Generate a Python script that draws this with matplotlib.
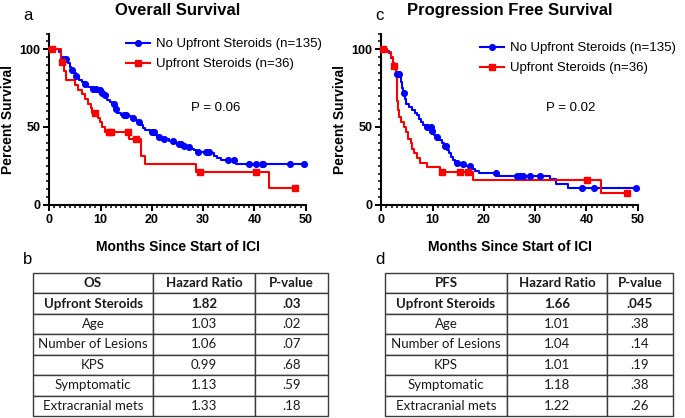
import numpy as np
import matplotlib
matplotlib.use("Agg")
import matplotlib.pyplot as plt
from matplotlib.ticker import MultipleLocator
from matplotlib.lines import Line2D

plt.rcParams['font.family'] = ['Liberation Sans', 'DejaVu Sans']

# ---- Overall survival (a) ----
os_no_t = [0, 1.9, 2.3, 2.7, 3.6, 4.0, 4.3, 4.9, 5.2, 5.8, 6.4, 6.9, 7.6, 8.3, 9.5, 10.2, 10.7,
           11.2, 11.8, 12.3, 12.9, 13.2, 13.9, 15.4, 15.9, 16.5, 17.1, 17.7, 18.2, 18.7, 19.6,
           20.6, 21.0, 21.6, 23.4, 24.3, 25.2, 26.1, 26.8, 27.4, 28.2, 28.6, 31.5, 32.1, 32.8,
           33.4, 36.4, 49.7]
os_no_s = [100, 98, 95, 93.5, 91, 88.5, 86.5, 84.5, 82.5, 80.5, 79, 77.5, 76, 74.5, 73.5, 72, 70.5,
           67.5, 66, 64.5, 61.5, 59, 58, 57, 56, 54.5, 53, 51, 49.5, 48, 47,
           45, 43.5, 42, 41, 40, 39, 38, 37, 36, 35, 34, 33, 31.5, 30,
           29, 26, 26]
os_no_cens = [2.9, 3.3, 4.4, 5.3, 7.0, 8.6, 9.1, 9.8, 10.3, 10.9, 12.6, 13.1, 14.5, 15.0, 16.4,
              17.4, 20.1, 20.4, 21.3, 22.3, 24.2, 25.3, 25.6, 26.3, 27.2, 29.0, 30.6, 31.1,
              34.9, 36.1, 39.0, 40.4, 41.4, 41.7, 46.9, 49.7]

os_st_t = [0, 2.3, 2.9, 3.3, 5.0, 5.6, 6.3, 7.0, 7.6, 8.1, 8.4, 9.4, 9.8, 10.3, 10.8, 15.5,
           17.8, 18.6, 28.6, 42.9, 47.9]
os_st_s = [100, 92, 86, 80, 77, 74, 71, 68, 65, 62, 59, 56, 53, 50, 46.5, 42,
           31.5, 26.5, 21, 10.5, 10.5]
os_st_cens = [0.6, 2.5, 9.0, 11.6, 12.0, 15.3, 17.0, 29.4, 40.3, 47.9]

# ---- Progression free survival (c) ----
pfs_no_t = [0, 1.2, 1.5, 1.9, 2.2, 2.5, 2.8, 3.0, 3.6, 3.8, 4.1, 4.3, 4.7, 4.9, 5.4, 6.0, 6.6,
            7.0, 7.4, 7.8, 8.2, 8.7, 9.8, 10.3, 10.6, 11.2, 11.8, 12.3, 12.8, 13.2, 13.6, 14.0,
            14.4, 15.3, 16.4, 17.6, 18.2, 19.0, 22.8, 32.9, 34.1, 36.5, 49.7]
pfs_no_s = [100, 99, 97.5, 94.5, 91, 88.5, 85.5, 84, 82, 79, 75, 72, 68, 65, 63, 61, 59,
            57.5, 55, 53, 51, 50, 47.5, 45, 43.5, 41.5, 39.5, 38, 35.5, 33, 30.5, 29,
            27, 26, 25, 23, 21.5, 20.5, 18.7, 16.4, 13.1, 10.6, 10.6]
pfs_no_cens = [3.1, 3.4, 4.5, 9.0, 9.6, 9.9, 10.8, 12.4, 12.7, 14.8, 15.9, 17.3, 22.3, 26.4,
               27.0, 27.7, 29.0, 31.0, 39.1, 41.5, 49.7]

pfs_st_t = [0, 1.2, 1.8, 2.2, 2.8, 3.0, 3.15, 3.35, 3.5, 3.9, 4.4, 4.8, 5.3, 5.7, 6.0, 6.3,
            6.9, 7.5, 8.9, 11.4, 17.8, 42.9, 47.9]
pfs_st_s = [100, 98.5, 95, 89.5, 84, 75, 67, 61, 56.5, 53.5, 50, 46.5, 42.5, 39.5, 36, 33,
            30, 27, 24, 21, 15.7, 7.7, 7.7]
pfs_st_cens = [0.4, 2.4, 11.8, 15.4, 17.0, 40.2, 47.9]

# ---- Cox tables (b, d) ----
row_labels = ['Upfront Steroids', 'Age', 'Number of Lesions', 'KPS', 'Symptomatic',
              'Extracranial mets']
os_hr = ['1.82', '1.03', '1.06', '0.99', '1.13', '1.33']
os_p = ['.03', '.02', '.07', '.68', '.59', '.18']
pfs_hr = ['1.66', '1.01', '1.04', '1.01', '1.18', '1.22']
pfs_p = ['.045', '.38', '.14', '.19', '.38', '.26']

BLUE = '#0000FF'
RED = '#FF0000'
W, H = 685, 418

fig = plt.figure(figsize=(6.85, 4.18), dpi=100)


def km_panel(left_px, title, no_t, no_s, no_c, st_t, st_s, st_c, leg_xy, p_xy, p_text):
    ax = fig.add_axes([left_px / W, 1 - 204.7 / H, 256.4 / W, 171 / H])
    for t, s, c, col, mk in [(no_t, no_s, no_c, BLUE, 'o'), (st_t, st_s, st_c, RED, 's')]:
        ax.plot(t, s, drawstyle='steps-post', color=col, lw=1.5, clip_on=False, zorder=3)
        idx = np.searchsorted(t, c, side='right') - 1
        ax.plot(c, np.asarray(s)[idx], ls='none', marker=mk, ms=4.1, color=col,
                clip_on=False, zorder=4)
    ax.set_xlim(0, 50)
    ax.set_ylim(0, 110)
    ax.set_xticks([0, 10, 20, 30, 40, 50])
    ax.set_yticks([0, 50, 100])
    ax.xaxis.set_minor_locator(MultipleLocator(1))
    ax.yaxis.set_minor_locator(MultipleLocator(5))
    for sp in ['top', 'right']:
        ax.spines[sp].set_visible(False)
    for sp in ['left', 'bottom']:
        ax.spines[sp].set_linewidth(1.5)
    ax.tick_params(which='major', length=4.5, width=1.4, labelsize=9, pad=2)
    ax.tick_params(which='minor', length=2.5, width=1.1)
    for lab in ax.get_xticklabels() + ax.get_yticklabels():
        lab.set_fontweight('bold')
    ax.set_xlabel('Months Since Start of ICI', fontsize=10, fontweight='bold', labelpad=10)
    ax.set_ylabel('Percent Survival', fontsize=10, fontweight='bold', labelpad=3)
    ax.set_title(title, fontsize=12, fontweight='bold', pad=0, y=1.0)
    ax.title.set_position((0.5, 1 + 19 / 171))
    handles = [Line2D([], [], color=BLUE, lw=1.5, marker='o', ms=4.1),
               Line2D([], [], color=RED, lw=1.5, marker='s', ms=4.1)]
    ax.legend(handles, ['No Upfront Steroids (n=135)', 'Upfront Steroids (n=36)'],
              loc='upper left', bbox_to_anchor=leg_xy, frameon=False, fontsize=9.5,
              borderpad=0, borderaxespad=0, handlelength=1.8, handletextpad=0.45,
              labelspacing=0.6)
    ax.text(p_xy[0], p_xy[1], p_text, fontsize=9.5, ha='center', va='center')
    return ax


km_panel(49.3, 'Overall Survival', os_no_t, os_no_s, os_no_cens, os_st_t, os_st_s, os_st_cens,
         (0.299, 0.975), (32.5, 62.2), 'P = 0.06')
km_panel(381.3, 'Progression Free Survival', pfs_no_t, pfs_no_s, pfs_no_cens, pfs_st_t,
         pfs_st_s, pfs_st_cens, (0.385, 0.952), (37.0, 62.2), 'P = 0.02')


def cox_table(x0, x1, first_col, hr, pv, widths):
    tax = fig.add_axes([x0 / W, 1 - 416 / H, (x1 - x0) / W, 143 / H])
    tax.axis('off')
    cells = [[first_col, 'Hazard Ratio', 'P-value']] + \
            [[r, h, p] for r, h, p in zip(row_labels, hr, pv)]
    tb = tax.table(cellText=cells, colWidths=widths, cellLoc='center', bbox=[0, 0, 1, 1])
    tb.auto_set_font_size(False)
    for (r, c), cell in tb.get_celld().items():
        cell.set_edgecolor('#3c3c3c')
        cell.set_linewidth(1.0)
        txt = cell.get_text()
        txt.set_fontsize(9.5)
        txt.set_fontfamily(['Lato', 'DejaVu Sans'])
        txt.set_color('#1a1a1a')
        if r <= 1:
            txt.set_fontweight('bold')
    return tax


cox_table(33, 328, 'OS', os_hr, os_p, [120, 102, 73])
cox_table(385, 673, 'PFS', pfs_hr, pfs_p, [122, 100, 66])

for lab, x, y in [('a', 28, 16), ('b', 28, 260), ('c', 379, 16), ('d', 380, 259)]:
    fig.text(x / W, 1 - y / H, lab, fontsize=12, ha='center', va='center')

plt.savefig('out.png', dpi=100)
